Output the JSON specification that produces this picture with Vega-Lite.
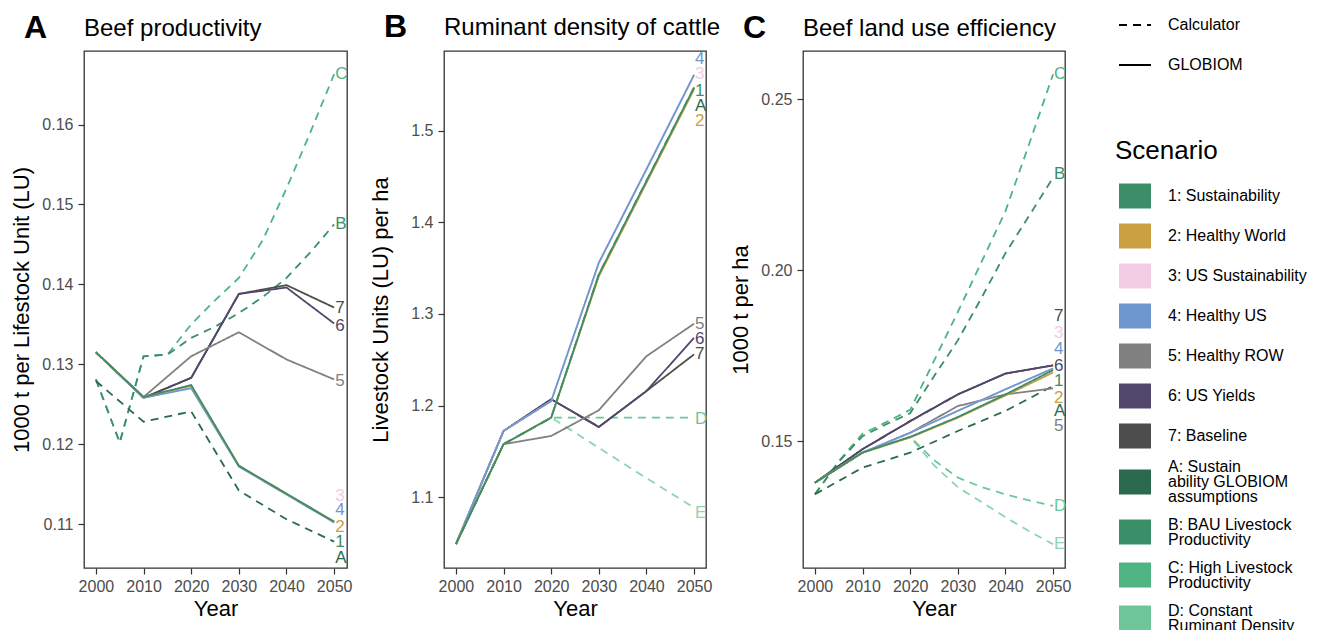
{
"$schema": "https://vega.github.io/schema/vega-lite/v6.json",
"background": "white",
"padding": {"left": 10, "top": 8, "right": 5, "bottom": 5},
"bounds": "flush",
"spacing": 97,
"config": {
 "font": "Liberation Sans",
 "view": {"stroke": "#333333", "strokeWidth": 1.3},
 "axis": {"grid": false, "domain": false, "tickColor": "#333333", "tickSize": 6, "tickWidth": 1.2, "labelFontSize": 16, "labelColor": "#4D4D4D", "labelFont": "Liberation Sans", "titleFont": "Liberation Sans", "titleFontSize": 22, "titleFontWeight": "normal", "titleColor": "black"},
 "axisX": {"labelPadding": 4, "titlePadding": 4},
 "axisY": {"labelPadding": 5, "titlePadding": 8},
 "legend": {"labelFont": "Liberation Sans", "labelFontSize": 16, "labelColor": "black", "titleFont": "Liberation Sans", "labelLimit": 300},
 "title": {"anchor": "start", "frame": "group", "dx": -60, "fontSize": 32, "fontWeight": "bold", "color": "black", "font": "Liberation Sans", "subtitleFontSize": 24, "subtitleColor": "black", "subtitleFont": "Liberation Sans", "subtitlePadding": -28, "offset": 6}
},
"datasets": {
 "lines": [
  {"p":"A","s":"C","m":"Calculator","yr":2000,"v":0.1281},{"p":"A","s":"C","m":"Calculator","yr":2005,"v":0.1202},{"p":"A","s":"C","m":"Calculator","yr":2010,"v":0.1310},{"p":"A","s":"C","m":"Calculator","yr":2015,"v":0.1312},{"p":"A","s":"C","m":"Calculator","yr":2020,"v":0.1350},{"p":"A","s":"C","m":"Calculator","yr":2025,"v":0.1380},{"p":"A","s":"C","m":"Calculator","yr":2030,"v":0.1408},{"p":"A","s":"C","m":"Calculator","yr":2035,"v":0.1455},{"p":"A","s":"C","m":"Calculator","yr":2040,"v":0.1520},{"p":"A","s":"C","m":"Calculator","yr":2045,"v":0.1590},{"p":"A","s":"C","m":"Calculator","yr":2050,"v":0.1663},
  {"p":"A","s":"B","m":"Calculator","yr":2000,"v":0.1281},{"p":"A","s":"B","m":"Calculator","yr":2005,"v":0.1202},{"p":"A","s":"B","m":"Calculator","yr":2010,"v":0.1310},{"p":"A","s":"B","m":"Calculator","yr":2015,"v":0.1312},{"p":"A","s":"B","m":"Calculator","yr":2020,"v":0.1333},{"p":"A","s":"B","m":"Calculator","yr":2025,"v":0.1347},{"p":"A","s":"B","m":"Calculator","yr":2030,"v":0.1364},{"p":"A","s":"B","m":"Calculator","yr":2035,"v":0.1384},{"p":"A","s":"B","m":"Calculator","yr":2040,"v":0.1408},{"p":"A","s":"B","m":"Calculator","yr":2045,"v":0.1440},{"p":"A","s":"B","m":"Calculator","yr":2050,"v":0.1475},
  {"p":"A","s":"A","m":"Calculator","yr":2000,"v":0.1279},{"p":"A","s":"A","m":"Calculator","yr":2010,"v":0.1228},{"p":"A","s":"A","m":"Calculator","yr":2020,"v":0.1241},{"p":"A","s":"A","m":"Calculator","yr":2030,"v":0.1142},{"p":"A","s":"A","m":"Calculator","yr":2040,"v":0.1106},{"p":"A","s":"A","m":"Calculator","yr":2050,"v":0.1078},
  {"p":"A","s":"7","m":"GLOBIOM","yr":2000,"v":0.1315},{"p":"A","s":"7","m":"GLOBIOM","yr":2010,"v":0.1258},{"p":"A","s":"7","m":"GLOBIOM","yr":2020,"v":0.1283},{"p":"A","s":"7","m":"GLOBIOM","yr":2030,"v":0.1388},{"p":"A","s":"7","m":"GLOBIOM","yr":2040,"v":0.1399},{"p":"A","s":"7","m":"GLOBIOM","yr":2050,"v":0.1371},
  {"p":"A","s":"6","m":"GLOBIOM","yr":2000,"v":0.1315},{"p":"A","s":"6","m":"GLOBIOM","yr":2010,"v":0.1258},{"p":"A","s":"6","m":"GLOBIOM","yr":2020,"v":0.1283},{"p":"A","s":"6","m":"GLOBIOM","yr":2030,"v":0.1388},{"p":"A","s":"6","m":"GLOBIOM","yr":2040,"v":0.1396},{"p":"A","s":"6","m":"GLOBIOM","yr":2050,"v":0.1351},
  {"p":"A","s":"5","m":"GLOBIOM","yr":2000,"v":0.1315},{"p":"A","s":"5","m":"GLOBIOM","yr":2010,"v":0.1259},{"p":"A","s":"5","m":"GLOBIOM","yr":2020,"v":0.1310},{"p":"A","s":"5","m":"GLOBIOM","yr":2030,"v":0.1340},{"p":"A","s":"5","m":"GLOBIOM","yr":2040,"v":0.1306},{"p":"A","s":"5","m":"GLOBIOM","yr":2050,"v":0.1281},
  {"p":"A","s":"3","m":"GLOBIOM","yr":2000,"v":0.1315},{"p":"A","s":"3","m":"GLOBIOM","yr":2010,"v":0.1258},{"p":"A","s":"3","m":"GLOBIOM","yr":2020,"v":0.1271},{"p":"A","s":"3","m":"GLOBIOM","yr":2030,"v":0.1172},{"p":"A","s":"3","m":"GLOBIOM","yr":2040,"v":0.1137},{"p":"A","s":"3","m":"GLOBIOM","yr":2050,"v":0.1102},
  {"p":"A","s":"4","m":"GLOBIOM","yr":2000,"v":0.1315},{"p":"A","s":"4","m":"GLOBIOM","yr":2010,"v":0.1258},{"p":"A","s":"4","m":"GLOBIOM","yr":2020,"v":0.1270},{"p":"A","s":"4","m":"GLOBIOM","yr":2030,"v":0.1172},{"p":"A","s":"4","m":"GLOBIOM","yr":2040,"v":0.1137},{"p":"A","s":"4","m":"GLOBIOM","yr":2050,"v":0.1102},
  {"p":"A","s":"2","m":"GLOBIOM","yr":2000,"v":0.1315},{"p":"A","s":"2","m":"GLOBIOM","yr":2010,"v":0.1259},{"p":"A","s":"2","m":"GLOBIOM","yr":2020,"v":0.1273},{"p":"A","s":"2","m":"GLOBIOM","yr":2030,"v":0.1173},{"p":"A","s":"2","m":"GLOBIOM","yr":2040,"v":0.1138},{"p":"A","s":"2","m":"GLOBIOM","yr":2050,"v":0.1103},
  {"p":"A","s":"1","m":"GLOBIOM","yr":2000,"v":0.1315},{"p":"A","s":"1","m":"GLOBIOM","yr":2010,"v":0.1259},{"p":"A","s":"1","m":"GLOBIOM","yr":2020,"v":0.1274},{"p":"A","s":"1","m":"GLOBIOM","yr":2030,"v":0.1173},{"p":"A","s":"1","m":"GLOBIOM","yr":2040,"v":0.1138},{"p":"A","s":"1","m":"GLOBIOM","yr":2050,"v":0.1103},

  {"p":"B","s":"E","m":"Calculator","yr":2000,"v":1.049},{"p":"B","s":"E","m":"Calculator","yr":2010,"v":1.158},{"p":"B","s":"E","m":"Calculator","yr":2020,"v":1.187},{"p":"B","s":"E","m":"Calculator","yr":2030,"v":1.154},{"p":"B","s":"E","m":"Calculator","yr":2040,"v":1.121},{"p":"B","s":"E","m":"Calculator","yr":2050,"v":1.0888},
  {"p":"B","s":"D","m":"Calculator","yr":2000,"v":1.049},{"p":"B","s":"D","m":"Calculator","yr":2010,"v":1.158},{"p":"B","s":"D","m":"Calculator","yr":2020,"v":1.187},{"p":"B","s":"D","m":"Calculator","yr":2030,"v":1.187},{"p":"B","s":"D","m":"Calculator","yr":2040,"v":1.187},{"p":"B","s":"D","m":"Calculator","yr":2050,"v":1.187},
  {"p":"B","s":"A","m":"Calculator","yr":2000,"v":1.049},{"p":"B","s":"A","m":"Calculator","yr":2010,"v":1.158},{"p":"B","s":"A","m":"Calculator","yr":2020,"v":1.187},{"p":"B","s":"A","m":"Calculator","yr":2030,"v":1.343},{"p":"B","s":"A","m":"Calculator","yr":2040,"v":1.445},{"p":"B","s":"A","m":"Calculator","yr":2050,"v":1.547},
  {"p":"B","s":"7","m":"GLOBIOM","yr":2000,"v":1.049},{"p":"B","s":"7","m":"GLOBIOM","yr":2010,"v":1.1724},{"p":"B","s":"7","m":"GLOBIOM","yr":2020,"v":1.207},{"p":"B","s":"7","m":"GLOBIOM","yr":2030,"v":1.1768},{"p":"B","s":"7","m":"GLOBIOM","yr":2040,"v":1.216},{"p":"B","s":"7","m":"GLOBIOM","yr":2050,"v":1.256},
  {"p":"B","s":"6","m":"GLOBIOM","yr":2000,"v":1.049},{"p":"B","s":"6","m":"GLOBIOM","yr":2010,"v":1.1724},{"p":"B","s":"6","m":"GLOBIOM","yr":2020,"v":1.207},{"p":"B","s":"6","m":"GLOBIOM","yr":2030,"v":1.1768},{"p":"B","s":"6","m":"GLOBIOM","yr":2040,"v":1.216},{"p":"B","s":"6","m":"GLOBIOM","yr":2050,"v":1.274},
  {"p":"B","s":"5","m":"GLOBIOM","yr":2000,"v":1.049},{"p":"B","s":"5","m":"GLOBIOM","yr":2010,"v":1.158},{"p":"B","s":"5","m":"GLOBIOM","yr":2020,"v":1.167},{"p":"B","s":"5","m":"GLOBIOM","yr":2030,"v":1.195},{"p":"B","s":"5","m":"GLOBIOM","yr":2040,"v":1.254},{"p":"B","s":"5","m":"GLOBIOM","yr":2050,"v":1.2894},
  {"p":"B","s":"3","m":"GLOBIOM","yr":2000,"v":1.049},{"p":"B","s":"3","m":"GLOBIOM","yr":2010,"v":1.1724},{"p":"B","s":"3","m":"GLOBIOM","yr":2020,"v":1.205},{"p":"B","s":"3","m":"GLOBIOM","yr":2030,"v":1.355},{"p":"B","s":"3","m":"GLOBIOM","yr":2040,"v":1.457},{"p":"B","s":"3","m":"GLOBIOM","yr":2050,"v":1.560},
  {"p":"B","s":"4","m":"GLOBIOM","yr":2000,"v":1.049},{"p":"B","s":"4","m":"GLOBIOM","yr":2010,"v":1.1724},{"p":"B","s":"4","m":"GLOBIOM","yr":2020,"v":1.205},{"p":"B","s":"4","m":"GLOBIOM","yr":2030,"v":1.356},{"p":"B","s":"4","m":"GLOBIOM","yr":2040,"v":1.458},{"p":"B","s":"4","m":"GLOBIOM","yr":2050,"v":1.561},
  {"p":"B","s":"2","m":"GLOBIOM","yr":2000,"v":1.049},{"p":"B","s":"2","m":"GLOBIOM","yr":2010,"v":1.158},{"p":"B","s":"2","m":"GLOBIOM","yr":2020,"v":1.187},{"p":"B","s":"2","m":"GLOBIOM","yr":2030,"v":1.341},{"p":"B","s":"2","m":"GLOBIOM","yr":2040,"v":1.443},{"p":"B","s":"2","m":"GLOBIOM","yr":2050,"v":1.545},
  {"p":"B","s":"1","m":"GLOBIOM","yr":2000,"v":1.049},{"p":"B","s":"1","m":"GLOBIOM","yr":2010,"v":1.158},{"p":"B","s":"1","m":"GLOBIOM","yr":2020,"v":1.187},{"p":"B","s":"1","m":"GLOBIOM","yr":2030,"v":1.343},{"p":"B","s":"1","m":"GLOBIOM","yr":2040,"v":1.445},{"p":"B","s":"1","m":"GLOBIOM","yr":2050,"v":1.547},

  {"p":"C","s":"E","m":"Calculator","yr":2000,"v":0.1379},{"p":"C","s":"E","m":"Calculator","yr":2010,"v":0.1467},{"p":"C","s":"E","m":"Calculator","yr":2020,"v":0.1513},{"p":"C","s":"E","m":"Calculator","yr":2025,"v":0.1430},{"p":"C","s":"E","m":"Calculator","yr":2030,"v":0.1366},{"p":"C","s":"E","m":"Calculator","yr":2035,"v":0.1322},{"p":"C","s":"E","m":"Calculator","yr":2040,"v":0.1278},{"p":"C","s":"E","m":"Calculator","yr":2045,"v":0.1237},{"p":"C","s":"E","m":"Calculator","yr":2050,"v":0.1199},
  {"p":"C","s":"D","m":"Calculator","yr":2000,"v":0.1379},{"p":"C","s":"D","m":"Calculator","yr":2010,"v":0.1467},{"p":"C","s":"D","m":"Calculator","yr":2020,"v":0.1513},{"p":"C","s":"D","m":"Calculator","yr":2025,"v":0.1445},{"p":"C","s":"D","m":"Calculator","yr":2030,"v":0.1394},{"p":"C","s":"D","m":"Calculator","yr":2035,"v":0.1366},{"p":"C","s":"D","m":"Calculator","yr":2040,"v":0.1345},{"p":"C","s":"D","m":"Calculator","yr":2045,"v":0.1327},{"p":"C","s":"D","m":"Calculator","yr":2050,"v":0.1311},
  {"p":"C","s":"C","m":"Calculator","yr":2000,"v":0.1345},{"p":"C","s":"C","m":"Calculator","yr":2005,"v":0.1442},{"p":"C","s":"C","m":"Calculator","yr":2010,"v":0.1522},{"p":"C","s":"C","m":"Calculator","yr":2015,"v":0.1556},{"p":"C","s":"C","m":"Calculator","yr":2020,"v":0.1592},{"p":"C","s":"C","m":"Calculator","yr":2025,"v":0.1735},{"p":"C","s":"C","m":"Calculator","yr":2030,"v":0.1878},{"p":"C","s":"C","m":"Calculator","yr":2035,"v":0.2025},{"p":"C","s":"C","m":"Calculator","yr":2040,"v":0.2173},{"p":"C","s":"C","m":"Calculator","yr":2045,"v":0.2370},{"p":"C","s":"C","m":"Calculator","yr":2050,"v":0.2573},
  {"p":"C","s":"B","m":"Calculator","yr":2000,"v":0.1345},{"p":"C","s":"B","m":"Calculator","yr":2005,"v":0.1440},{"p":"C","s":"B","m":"Calculator","yr":2010,"v":0.1515},{"p":"C","s":"B","m":"Calculator","yr":2015,"v":0.1550},{"p":"C","s":"B","m":"Calculator","yr":2020,"v":0.1582},{"p":"C","s":"B","m":"Calculator","yr":2025,"v":0.1690},{"p":"C","s":"B","m":"Calculator","yr":2030,"v":0.1795},{"p":"C","s":"B","m":"Calculator","yr":2035,"v":0.1920},{"p":"C","s":"B","m":"Calculator","yr":2040,"v":0.2050},{"p":"C","s":"B","m":"Calculator","yr":2045,"v":0.2160},{"p":"C","s":"B","m":"Calculator","yr":2050,"v":0.2271},
  {"p":"C","s":"A","m":"Calculator","yr":2000,"v":0.1345},{"p":"C","s":"A","m":"Calculator","yr":2010,"v":0.1423},{"p":"C","s":"A","m":"Calculator","yr":2020,"v":0.1467},{"p":"C","s":"A","m":"Calculator","yr":2030,"v":0.1530},{"p":"C","s":"A","m":"Calculator","yr":2040,"v":0.1589},{"p":"C","s":"A","m":"Calculator","yr":2050,"v":0.1662},
  {"p":"C","s":"7","m":"GLOBIOM","yr":2000,"v":0.1379},{"p":"C","s":"7","m":"GLOBIOM","yr":2010,"v":0.1477},{"p":"C","s":"7","m":"GLOBIOM","yr":2020,"v":0.1559},{"p":"C","s":"7","m":"GLOBIOM","yr":2030,"v":0.1637},{"p":"C","s":"7","m":"GLOBIOM","yr":2040,"v":0.1698},{"p":"C","s":"7","m":"GLOBIOM","yr":2050,"v":0.1722},
  {"p":"C","s":"6","m":"GLOBIOM","yr":2000,"v":0.1379},{"p":"C","s":"6","m":"GLOBIOM","yr":2010,"v":0.1477},{"p":"C","s":"6","m":"GLOBIOM","yr":2020,"v":0.1559},{"p":"C","s":"6","m":"GLOBIOM","yr":2030,"v":0.1637},{"p":"C","s":"6","m":"GLOBIOM","yr":2040,"v":0.1698},{"p":"C","s":"6","m":"GLOBIOM","yr":2050,"v":0.1722},
  {"p":"C","s":"5","m":"GLOBIOM","yr":2000,"v":0.1379},{"p":"C","s":"5","m":"GLOBIOM","yr":2010,"v":0.1467},{"p":"C","s":"5","m":"GLOBIOM","yr":2020,"v":0.1525},{"p":"C","s":"5","m":"GLOBIOM","yr":2030,"v":0.1603},{"p":"C","s":"5","m":"GLOBIOM","yr":2040,"v":0.1637},{"p":"C","s":"5","m":"GLOBIOM","yr":2050,"v":0.1655},
  {"p":"C","s":"3","m":"GLOBIOM","yr":2000,"v":0.1379},{"p":"C","s":"3","m":"GLOBIOM","yr":2010,"v":0.1467},{"p":"C","s":"3","m":"GLOBIOM","yr":2020,"v":0.1525},{"p":"C","s":"3","m":"GLOBIOM","yr":2030,"v":0.1589},{"p":"C","s":"3","m":"GLOBIOM","yr":2040,"v":0.1652},{"p":"C","s":"3","m":"GLOBIOM","yr":2050,"v":0.1713},
  {"p":"C","s":"4","m":"GLOBIOM","yr":2000,"v":0.1379},{"p":"C","s":"4","m":"GLOBIOM","yr":2010,"v":0.1467},{"p":"C","s":"4","m":"GLOBIOM","yr":2020,"v":0.1525},{"p":"C","s":"4","m":"GLOBIOM","yr":2030,"v":0.1589},{"p":"C","s":"4","m":"GLOBIOM","yr":2040,"v":0.1652},{"p":"C","s":"4","m":"GLOBIOM","yr":2050,"v":0.1713},
  {"p":"C","s":"2","m":"GLOBIOM","yr":2000,"v":0.1379},{"p":"C","s":"2","m":"GLOBIOM","yr":2010,"v":0.1467},{"p":"C","s":"2","m":"GLOBIOM","yr":2020,"v":0.1511},{"p":"C","s":"2","m":"GLOBIOM","yr":2030,"v":0.1569},{"p":"C","s":"2","m":"GLOBIOM","yr":2040,"v":0.1634},{"p":"C","s":"2","m":"GLOBIOM","yr":2050,"v":0.1701},
  {"p":"C","s":"1","m":"GLOBIOM","yr":2000,"v":0.1379},{"p":"C","s":"1","m":"GLOBIOM","yr":2010,"v":0.1467},{"p":"C","s":"1","m":"GLOBIOM","yr":2020,"v":0.1513},{"p":"C","s":"1","m":"GLOBIOM","yr":2030,"v":0.1571},{"p":"C","s":"1","m":"GLOBIOM","yr":2040,"v":0.1637},{"p":"C","s":"1","m":"GLOBIOM","yr":2050,"v":0.1708}
 ],
 "labels": [
  {"p":"A","s":"C","yr":2050,"v":0.1663},{"p":"A","s":"B","yr":2050,"v":0.1475},{"p":"A","s":"7","yr":2050,"v":0.1371},{"p":"A","s":"6","yr":2050,"v":0.1348},{"p":"A","s":"5","yr":2050,"v":0.1279},{"p":"A","s":"3","yr":2050,"v":0.1135},{"p":"A","s":"4","yr":2050,"v":0.1117},{"p":"A","s":"2","yr":2050,"v":0.1096},{"p":"A","s":"1","yr":2050,"v":0.1077},{"p":"A","s":"A","yr":2050,"v":0.1057},
  {"p":"B","s":"4","yr":2050,"v":1.5778},{"p":"B","s":"3","yr":2050,"v":1.5614},{"p":"B","s":"1","yr":2050,"v":1.5432},{"p":"B","s":"A","yr":2050,"v":1.5268},{"p":"B","s":"2","yr":2050,"v":1.5105},{"p":"B","s":"5","yr":2050,"v":1.2894},{"p":"B","s":"6","yr":2050,"v":1.2724},{"p":"B","s":"7","yr":2050,"v":1.256},{"p":"B","s":"D","yr":2050,"v":1.1855},{"p":"B","s":"E","yr":2050,"v":1.0833},
  {"p":"C","s":"C","yr":2050,"v":0.2573},{"p":"C","s":"B","yr":2050,"v":0.228},{"p":"C","s":"7","yr":2050,"v":0.1867},{"p":"C","s":"3","yr":2050,"v":0.1818},{"p":"C","s":"4","yr":2050,"v":0.1769},{"p":"C","s":"6","yr":2050,"v":0.172},{"p":"C","s":"1","yr":2050,"v":0.1676},{"p":"C","s":"2","yr":2050,"v":0.1627},{"p":"C","s":"A","yr":2050,"v":0.1589},{"p":"C","s":"5","yr":2050,"v":0.1545},{"p":"C","s":"D","yr":2050,"v":0.131},{"p":"C","s":"E","yr":2050,"v":0.1199}
 ]
},
"hconcat": [
 {
  "width": 263, "height": 517,
  "title": {"text": "A", "subtitle": "\u200b\u00a0\u00a0\u00a0\u00a0\u00a0\u00a0\u00a0\u00a0\u00a0Beef productivity"},
  "layer": [
   {"data": {"name": "lines"}, "transform": [{"filter": "datum.p=='A'"}],
    "mark": {"type": "line", "strokeWidth": 1.8},
    "encoding": {
     "x": {"field": "yr", "type": "quantitative", "scale": {"domain": [1997.5, 2052.7], "nice": false, "zero": false}, "axis": {"values": [2000, 2010, 2020, 2030, 2040, 2050], "format": "d", "title": "Year"}},
     "y": {"field": "v", "type": "quantitative", "scale": {"domain": [0.1045, 0.1692], "nice": false, "zero": false}, "axis": {"values": [0.11, 0.12, 0.13, 0.14, 0.15, 0.16], "format": ".2f", "title": "1000 t per Lifestock Unit (LU)"}},
     "color": {"field": "s", "type": "nominal",
      "scale": {"domain": ["1","2","3","4","5","6","7","A","B","C","D","E"], "range": ["#3B8E67","#CBA042","#F2CDE3","#6E97CE","#808080","#50476B","#4D4D4D","#2B6A4F","#3A8F68","#4DB482","#6DC699","#8ED6B0"]},
      "legend": {"orient": "none", "legendX": 1031, "legendY": 87, "title": "Scenario", "titleFontSize": 26, "titleFontWeight": "normal", "titleColor": "black", "titlePadding": 15,
       "symbolType": "M-0.765,-0.735L1.118,-0.735L1.118,0.735L-0.765,0.735Z", "symbolSize": 1156, "labelOffset": 19, "rowPadding": 10, "labelFontSize": 16,
       "labelExpr": "datum.label=='1'?'1: Sustainability':datum.label=='2'?'2: Healthy World':datum.label=='3'?'3: US Sustainability':datum.label=='4'?'4: Healthy US':datum.label=='5'?'5: Healthy ROW':datum.label=='6'?'6: US Yields':datum.label=='7'?'7: Baseline':datum.label=='A'?['A: Sustain','ability GLOBIOM','assumptions']:datum.label=='B'?['B: BAU Livestock','Productivity']:datum.label=='C'?['C: High Livestock','Productivity']:datum.label=='D'?['D: Constant','Ruminant Density']:['E: Declining','Ruminant Density']",
       "encode": {"symbols": {"update": {"fill": {"scale": "color", "field": "value"}, "fillOpacity": {"value": 1}, "strokeWidth": {"value": 0}}},
                  "labels": {"update": {"lineHeight": {"value": 15}, "dy": {"signal": "datum.label=='A' ? -15 : (datum.label=='B' || datum.label=='C' || datum.label=='D' || datum.label=='E') ? -7.5 : 0"}}}}}},
     "strokeDash": {"field": "m", "type": "nominal", "scale": {"domain": ["Calculator", "GLOBIOM"], "range": [[8, 6], [1, 0]]},
      "legend": {"orient": "none", "legendX": 1034, "legendY": -43, "title": null, "symbolSize": 1024, "symbolStrokeColor": "black", "symbolStrokeWidth": 2, "labelOffset": 16, "rowPadding": 15, "labelFontSize": 16,
       "encode": {"symbols": {"update": {"strokeDash": {"signal": "datum.value=='Calculator' ? [10,12] : [1,0]"}}}}}}
    }},
   {"data": {"name": "labels"}, "transform": [{"filter": "datum.p=='A'"}],
    "mark": {"type": "text", "align": "left", "baseline": "middle", "dx": 1, "fontSize": 17},
    "encoding": {"x": {"field": "yr", "type": "quantitative"}, "y": {"field": "v", "type": "quantitative"}, "text": {"field": "s"}, "color": {"field": "s", "type": "nominal"}}}
  ]
 },
 {
  "width": 262, "height": 517,
  "title": {"text": "B", "subtitle": "\u200b\u00a0\u00a0\u00a0\u00a0\u00a0\u00a0\u00a0\u00a0\u00a0Ruminant density of cattle"},
  "layer": [
   {"data": {"name": "lines"}, "transform": [{"filter": "datum.p=='B'"}],
    "mark": {"type": "line", "strokeWidth": 1.8},
    "encoding": {
     "x": {"field": "yr", "type": "quantitative", "scale": {"domain": [1997.5, 2052.5], "nice": false, "zero": false}, "axis": {"values": [2000, 2010, 2020, 2030, 2040, 2050], "format": "d", "title": "Year"}},
     "y": {"field": "v", "type": "quantitative", "scale": {"domain": [1.023, 1.5868], "nice": false, "zero": false}, "axis": {"values": [1.1, 1.2, 1.3, 1.4, 1.5], "format": ".1f", "title": "Livestock Units (LU) per ha", "titlePadding": 18}},
     "color": {"field": "s", "type": "nominal"},
     "strokeDash": {"field": "m", "type": "nominal"}
    }},
   {"data": {"name": "labels"}, "transform": [{"filter": "datum.p=='B'"}],
    "mark": {"type": "text", "align": "left", "baseline": "middle", "dx": 1, "fontSize": 17},
    "encoding": {"x": {"field": "yr", "type": "quantitative"}, "y": {"field": "v", "type": "quantitative"}, "text": {"field": "s"}, "color": {"field": "s", "type": "nominal"}}}
  ]
 },
 {
  "width": 262, "height": 517,
  "title": {"text": "C", "subtitle": "\u200b\u00a0\u00a0\u00a0\u00a0\u00a0\u00a0\u00a0\u00a0\u00a0Beef land use efficiency"},
  "layer": [
   {"data": {"name": "lines"}, "transform": [{"filter": "datum.p=='C'"}],
    "mark": {"type": "line", "strokeWidth": 1.8},
    "encoding": {
     "x": {"field": "yr", "type": "quantitative", "scale": {"domain": [1997.5, 2052.5], "nice": false, "zero": false}, "axis": {"values": [2000, 2010, 2020, 2030, 2040, 2050], "format": "d", "title": "Year"}},
     "y": {"field": "v", "type": "quantitative", "scale": {"domain": [0.11296, 0.2641], "nice": false, "zero": false}, "axis": {"values": [0.15, 0.20, 0.25], "format": ".2f", "title": "1000 t per ha"}},
     "color": {"field": "s", "type": "nominal"},
     "strokeDash": {"field": "m", "type": "nominal"}
    }},
   {"data": {"name": "labels"}, "transform": [{"filter": "datum.p=='C'"}],
    "mark": {"type": "text", "align": "left", "baseline": "middle", "dx": 1, "fontSize": 17},
    "encoding": {"x": {"field": "yr", "type": "quantitative"}, "y": {"field": "v", "type": "quantitative"}, "text": {"field": "s"}, "color": {"field": "s", "type": "nominal"}}}
  ]
 }
]
}
